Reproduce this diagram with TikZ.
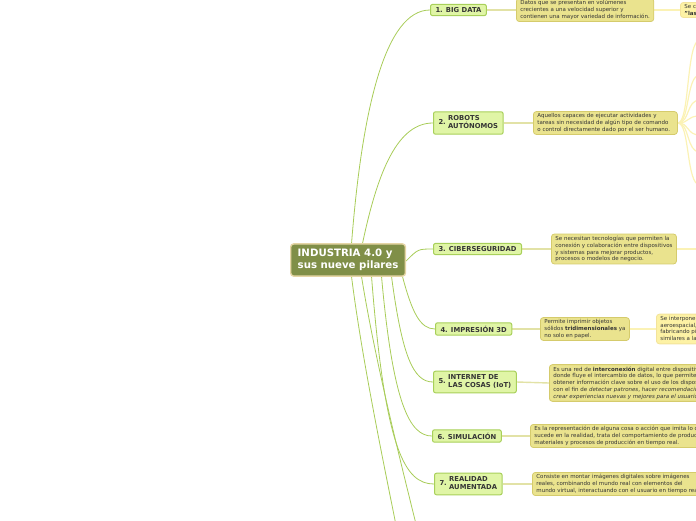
\documentclass[tikz,border=0pt]{standalone}
\usepackage{fontspec}
\setmainfont{DejaVu Sans}
\usetikzlibrary{backgrounds}
\definecolor{cfill}{HTML}{808F48}
\definecolor{cborder}{HTML}{E5D5A5}
\definecolor{bfill}{HTML}{E0F5A6}
\definecolor{bborder}{HTML}{A8D05A}
\definecolor{gline}{HTML}{A8CC58}
\definecolor{dfill}{HTML}{EAE38E}
\definecolor{dborder}{HTML}{D5CB6C}
\definecolor{dline}{HTML}{E2E2A6}
\definecolor{efill}{HTML}{FDF2A5}
\definecolor{eborder}{HTML}{F3E39B}
\definecolor{eline}{HTML}{FBF2B5}
\definecolor{txt}{HTML}{353535}
\tikzset{
  central/.style={draw=cborder,fill=cfill,line width=1.4pt,rounded corners=3pt,
    text=white,font=\fontsize{10.2}{12.5}\selectfont\bfseries,align=left,
    inner xsep=7pt,inner ysep=5pt,anchor=west},
  branch/.style={draw=bborder,fill=bfill,line width=1pt,rounded corners=2pt,
    text=txt,font=\fontsize{6.8}{7.8}\selectfont\bfseries,inner xsep=5pt,inner ysep=3pt,anchor=west},
  desc/.style={draw=dborder,fill=dfill,line width=0.8pt,rounded corners=3pt,
    text=txt,font=\fontsize{5.5}{6.8}\selectfont,align=left,inner xsep=4pt,inner ysep=2pt,anchor=west},
  third/.style={draw=eborder,fill=efill,line width=0.8pt,rounded corners=3pt,
    text=txt,font=\fontsize{5.5}{6.8}\selectfont,align=left,inner xsep=4pt,inner ysep=2pt,anchor=west},
  gconn/.style={draw=gline,line width=0.8pt},
  dconn/.style={draw=dline,line width=1.4pt},
  econn/.style={draw=eline,line width=1.2pt},
}
\begin{document}
\begin{tikzpicture}[x=1pt,y=-1pt]
\useasboundingbox (0,0) rectangle (696,520);
\begin{scope}
\clip (0,0) rectangle (696,520);
\coordinate (p8) at (399,540);
\coordinate (p9) at (420,540);
\foreach \i/\yy in {1/40,2/75,3/100,4/116,5/135,6/152,7/185}{\coordinate (f\i) at (700,\yy);}
\coordinate (g3) at (700,249);

\node[central] (c) at (290,260) {INDUSTRIA 4.0 y\\sus nueve pilares};

\node[branch] (b1) at (430,10) {1. BIG DATA};
\node[branch] (b2) at (433,123) {2.~\begin{tabular}{@{}l@{}}ROBOTS\\AUTÓNOMOS\end{tabular}};
\node[branch] (b3) at (433,249) {3. CIBERSEGURIDAD};
\node[branch] (b4) at (435,329) {4. IMPRESIÓN 3D};
\node[branch] (b5) at (433,382) {5.~\begin{tabular}{@{}l@{}}INTERNET DE\\LAS COSAS (IoT)\end{tabular}};
\node[branch] (b6) at (432,436) {6. SIMULACIÓN};
\node[branch] (b7) at (434,484) {7.~\begin{tabular}{@{}l@{}}REALIDAD\\AUMENTADA\end{tabular}};

\node[desc] (d1) at (516,10) {Datos que se presentan en volúmenes\\crecientes a una velocidad superior y\\contienen una mayor variedad de información.};
\node[desc,text width=136pt] (d2) at (533,123) {Aquellos capaces de ejecutar actividades y\\tareas sin necesidad de algún tipo de comando\\o control directamente dado por el ser humano.};
\node[desc] (d3) at (551,249) {Se necesitan tecnologías que permiten la\\conexión y colaboración entre dispositivos\\y sistemas para mejorar productos,\\procesos o modelos de negocio.};
\node[desc] (d4) at (540,329) {Permite imprimir objetos\\sólidos \textbf{tridimensionales} ya\\no solo en papel.};
\node[desc] (d5) at (549,383) {Es una red de \textbf{interconexión} digital entre dispositivos,\\donde fluye el intercambio de datos, lo que permite\\obtener información clave sobre el uso de los dispositivos\\con el fin de \textit{detectar patrones}, \textit{hacer recomendaciones y}\\\textit{crear experiencias nuevas y mejores para el usuario.}};
\node[desc] (d6) at (530,436) {Es la representación de alguna cosa o acción que imita lo que\\sucede en la realidad, trata del comportamiento de productos,\\materiales y procesos de producción en tiempo real.};
\node[desc] (d7) at (532,484) {Consiste en montar imágenes digitales sobre imágenes\\reales, combinando el mundo real con elementos del\\mundo virtual, interactuando con el usuario en tiempo real.};

\node[third] (e1) at (680,10) {Se caracteriza por\\\textbf{"las 3 V"}};
\node[third] (e4) at (656,329) {Se interpone en la industria\\aeroespacial, automotriz,\\fabricando piezas\\similares a las originales.};
\end{scope}

\begin{scope}[on background layer]
\clip (0,0) rectangle (696,520);
% centre -> branches
\draw[gconn] ([xshift=3.5pt]c.north) .. controls (362,110) and (385,10) .. (b1.west);
\draw[gconn] ([xshift=14.5pt]c.north) .. controls (378,170) and (398,123) .. (b2.west);
\draw[gconn] ([yshift=-1pt]c.east) .. controls (418,249) .. (b3.west);
\draw[gconn] ([xshift=54.5pt]c.south) .. controls (412,312) and (420,329) .. (b4.west);
\draw[gconn] ([xshift=43.5pt]c.south) .. controls (402,355) and (413,382) .. (b5.west);
\draw[gconn] ([xshift=33.5pt]c.south) .. controls (393,405) and (410,436) .. (b6.west);
\draw[gconn] ([xshift=23.5pt]c.south) .. controls (385,450) and (405,484) .. (b7.west);
\draw[gconn] ([xshift=3.5pt]c.south) .. controls (362,360) and (385,470) .. (p8);
\draw[gconn] ([xshift=13.5pt]c.south) .. controls (375,360) and (400,460) .. (p9);
% branch -> description
\foreach \i in {1,...,7}{\draw[dconn] (b\i.east) -- (d\i.west);}
% description -> third
\draw[econn] (d1.east) -- (e1.west);
\draw[econn] (d4.east) -- (e4.west);
\draw[econn] (d3.east) -- (g3);
\foreach \i/\yy in {1/40,2/75,3/100,4/116,5/135,6/152,7/185}{\draw[econn] (d2.east) .. controls (690,123) and (686,\yy) .. (f\i);}
\end{scope}
\end{tikzpicture}
\end{document}
